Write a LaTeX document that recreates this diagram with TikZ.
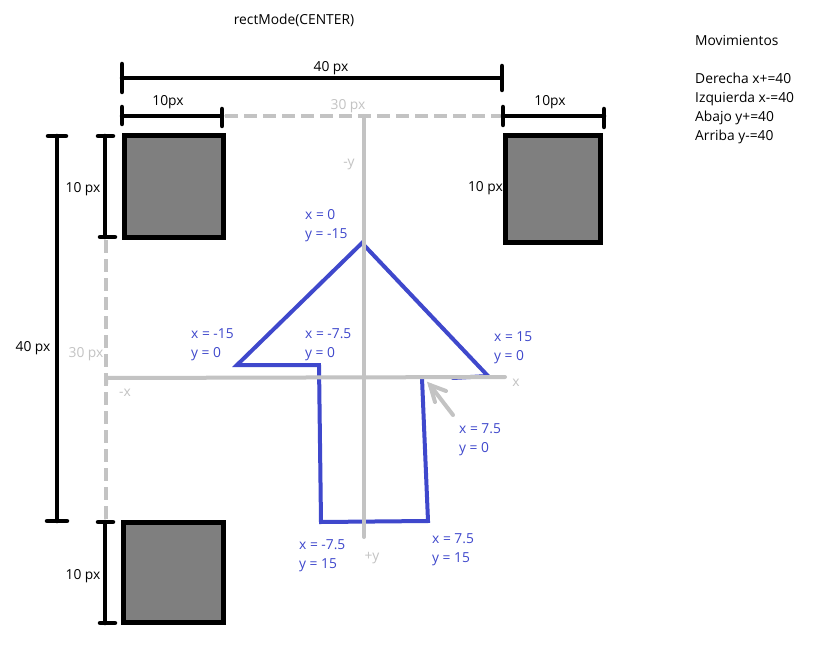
\documentclass[tikz,border=0pt]{standalone}
\usepackage{fontspec}
\setmainfont{Open Sans}
\definecolor{lg}{RGB}{195,195,195}
\definecolor{bl}{RGB}{63,72,204}
\definecolor{sqg}{RGB}{127,127,127}
\begin{document}
\begin{tikzpicture}[x=1pt,y=-1pt,
  txt/.style={inner sep=0pt, font=\fontsize{13.8}{16}\selectfont, text height=10pt, text depth=2.5pt},
  mlab/.style={inner sep=0pt, align=left, anchor=north west, font=\fontsize{13.8}{19}\selectfont},
  blab/.style={mlab, text=bl},
  glab/.style={txt, text=lg},
  dimln/.style={line width=4.5pt, black, line cap=round},
  sq/.style={draw=black, fill=sqg, line width=5pt},
  gline/.style={line width=4pt, lg, line cap=round},
  gdash/.style={line width=4pt, lg, dash pattern=on 13pt off 6pt},
  bline/.style={line width=4pt, bl, line join=miter, line cap=round}]
\useasboundingbox (0,0) rectangle (820,658);
\fill[white] (0,0) rectangle (820,658);

% title and movements
\node[txt] (title) at (294,21) {rectMode(CENTER)};
\node[txt, anchor=west] (mov) at (695,42) {Movimientos};
\node[mlab] (moves) at (695,73)
  {Derecha x+=40\\Izquierda x-=40\\Abajo y+=40\\Arriba y-=40};

% gray dashed guides
\draw[gdash] (225,116) -- (502,116);
\draw[gdash] (106,240) -- (106,524);

% squares
\draw[sq] (124,136) rectangle (223,237);
\draw[sq] (505,136) rectangle (600,242);
\draw[sq] (123,522) rectangle (223,622);

% top 40 px dimension
\draw[dimln] (122,78) -- (500,78);
\draw[dimln] (122,64) -- (122,92);
\draw[dimln] (502,66) -- (502,90);
\node[txt] (d40t) at (331,68) {40 px};
% top-left 10px
\draw[dimln] (122,116) -- (222,116);
\draw[dimln] (122,107) -- (122,124);
\draw[dimln] (222,109) -- (222,126);
\node[txt] (d10a) at (168,102) {10px};
% top-right 10px
\draw[dimln] (503,116) -- (604,116);
\draw[dimln] (503,107) -- (503,125);
\draw[dimln] (604,109) -- (604,127);
\node[txt] (d10b) at (550,102) {10px};
\node[txt, anchor=east] (d10c) at (503,188) {10 px};
% left 40 px
\draw[dimln] (57,136) -- (57,521);
\draw[dimln] (48,136) -- (66,136);
\draw[dimln] (47,521) -- (67,521);
\node[txt] (d40l) at (33,348) {40 px};
% left 10 px (top)
\draw[dimln] (105,136) -- (105,237);
\draw[dimln] (98,136) -- (113,136);
\draw[dimln] (100,237) -- (115,237);
\node[txt] (d10d) at (83,189) {10 px};
% left 10 px (bottom)
\draw[dimln] (105,522) -- (105,623);
\draw[dimln] (98,522) -- (113,522);
\draw[dimln] (100,623) -- (115,623);
\node[txt] (d10e) at (83,576) {10 px};

% gray labels
\node[glab] (g30t) at (348,106) {30 px};
\node[glab] (g30l) at (86,354) {30 px};
\node[glab] (gmy) at (349,163) {-y};
\node[glab] (gpy) at (372,557) {+y};
\node[glab] (gmx) at (125,393) {-x};
\node[glab] (gpx) at (516,383) {x};

% blue shape
\draw[bline] (422,378) -- (428,521) -- (321,522) -- (319,365) -- (237,365) -- (362,243) -- (488,376) -- (453,378);

% gray axes
\draw[gline] (106,384) -- (106,378) -- (505,377);
\draw[gline] (364,116) -- (364,537);

% gray arrow
\coordinate (tip) at (430,385);
\coordinate (tail) at (453,415);
\draw[gline] (tail) -- (tip);
\draw[gline] (446,391) -- (tip) -- (435,402);

% blue labels
\node[blab] (p1) at (305,209) {x = 0\\y = -15};
\node[blab] (p2) at (191,328) {x = -15\\y = 0};
\node[blab] (p3) at (305,328) {x = -7.5\\y = 0};
\node[blab] (p4) at (494,331) {x = 15\\y = 0};
\node[blab] (p5) at (459,423) {x = 7.5\\y = 0};
\node[blab] (p6) at (299,539) {x = -7.5\\y = 15};
\node[blab] (p7) at (432,533) {x = 7.5\\y = 15};
\end{tikzpicture}
\end{document}
